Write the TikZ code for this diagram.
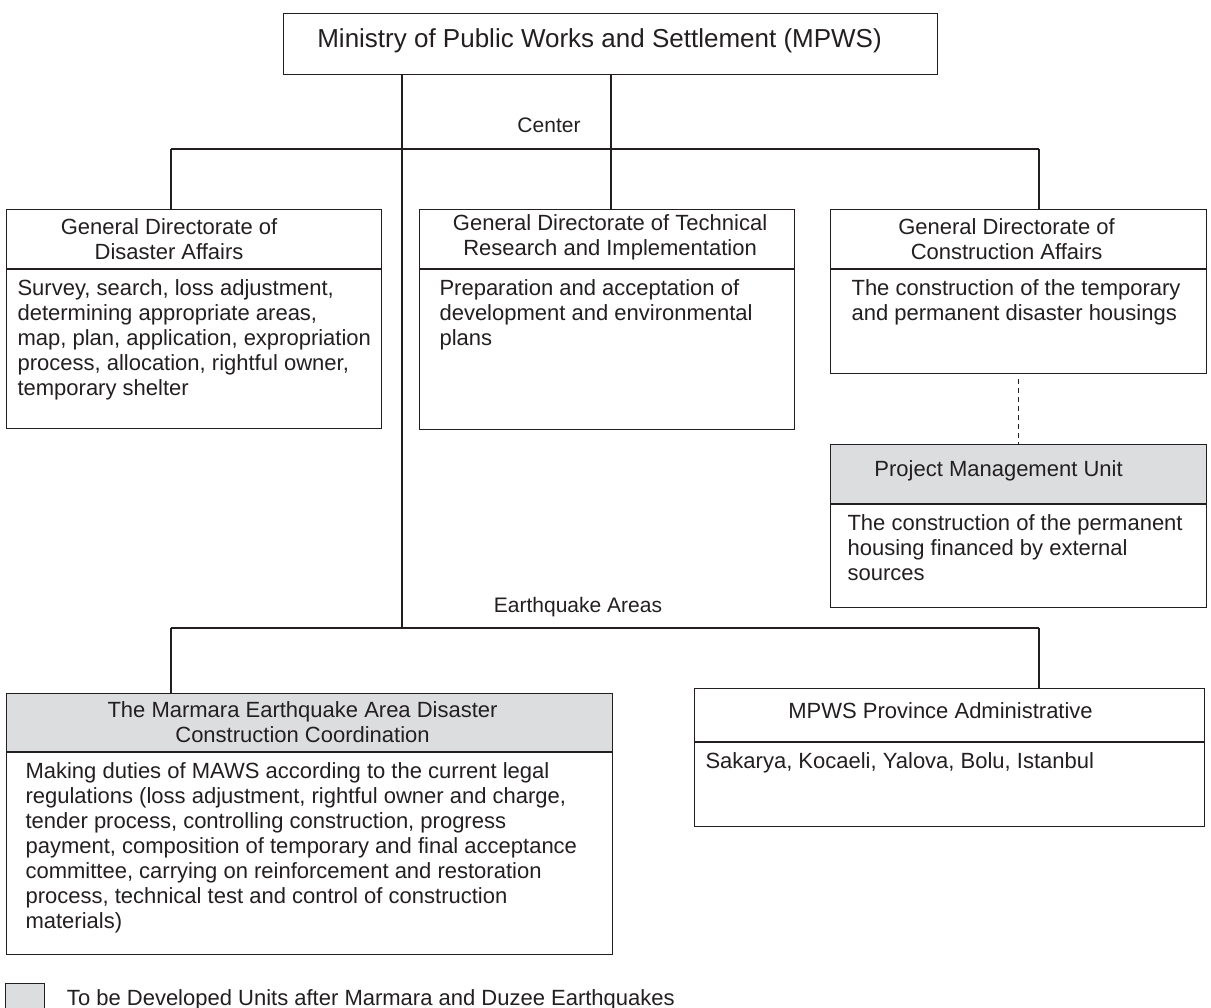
\documentclass[tikz,border=0pt]{standalone}
\usepackage{fontspec}
\setmainfont{Liberation Sans}
\usetikzlibrary{positioning}
\definecolor{newunit}{RGB}{220,221,223}
\definecolor{ink}{RGB}{35,31,32}
% duty text: width, height, left inset, lines
\newcommand{\dutytext}[4]{\parbox[c][#2][t]{#1}{\raggedright\leftskip=#3\rule{0pt}{26pt}#4}}
\begin{document}
\begin{tikzpicture}[x=1pt, y=-1pt, line width=1.1pt, color=ink,
  font=\fontsize{22}{25}\selectfont,
  unit/.style={draw, rectangle, inner sep=0pt, minimum height=59pt},
  newunit/.style={unit, fill=newunit},
  title/.style={align=center, inner sep=0pt},
  duty/.style={draw, rectangle, inner sep=0pt, below=0pt of #1},
  tag/.style={font=\fontsize{21}{25}\selectfont, anchor=base}
]
  \useasboundingbox (0,0) rectangle (1211,1008);

  % Ministry
  \node[unit, minimum width=654pt, minimum height=61pt, anchor=north west] (mpws) at (283,13) {};
  \node[title, font=\fontsize{26}{30}\selectfont] (mpws-title) at ([xshift=-11pt, yshift=3pt]mpws.center) {Ministry of Public Works and Settlement (MPWS)};

  % Center units
  \node[unit, minimum width=375pt, anchor=north west] (gdda) at (6,209) {};
  \node[title] (gdda-title) at ([xshift=-25pt]gdda.center) {General Directorate of\\Disaster Affairs};
  \node[duty=gdda] (gdda-duty) {\dutytext{375pt}{159pt}{11pt}{Survey, search, loss adjustment,\\determining appropriate areas,\\map, plan, application, expropriation\\process, allocation, rightful owner,\\temporary shelter}};

  \node[unit, minimum width=375pt, anchor=north west] (gdtr) at (419,209) {};
  \node[title] (gdtr-title) at ([xshift=3pt, yshift=2pt]gdtr.center) {General Directorate of Technical\\Research and Implementation};
  \node[duty=gdtr] (gdtr-duty) {\dutytext{375pt}{160pt}{20pt}{Preparation and acceptation of\\development and environmental\\plans}};

  \node[unit, minimum width=376pt, anchor=north west] (gdca) at (830,209) {};
  \node[title] (gdca-title) at ([xshift=-12pt]gdca.center) {General Directorate of\\Construction Affairs};
  \node[duty=gdca] (gdca-duty) {\dutytext{376pt}{104pt}{21pt}{The construction of the temporary\\and permanent disaster housings}};

  \node[newunit, minimum width=376pt, anchor=north west] (pmu) at (830,444) {};
  \node[title] (pmu-title) at ([xshift=-20pt, yshift=3pt]pmu.center) {Project Management Unit};
  \node[duty=pmu] (pmu-duty) {\dutytext{376pt}{103pt}{17pt}{The construction of the permanent\\housing financed by external\\sources}};

  % Earthquake area units
  \node[newunit, minimum width=606pt, minimum height=58pt, anchor=north west] (mecc) at (6,693) {};
  \node[title] (mecc-title) at ([xshift=-7pt]mecc.center) {The Marmara Earthquake Area Disaster\\Construction Coordination};
  \node[duty=mecc] (mecc-duty) {\dutytext{606pt}{202pt}{19pt}{Making duties of MAWS according to the current legal\\regulations (loss adjustment, rightful owner and charge,\\tender process, controlling construction, progress\\payment, composition of temporary and final acceptance\\committee, carrying on reinforcement and restoration\\process, technical test and control of construction\\materials)}};

  \node[unit, minimum width=510pt, minimum height=53pt, anchor=north west] (mpa) at (694,688) {};
  \node[title] (mpa-title) at ([xshift=-9pt, yshift=4pt]mpa.center) {MPWS Province Administrative};
  \node[duty=mpa] (mpa-duty) {\dutytext{510pt}{84pt}{11pt}{Sakarya, Kocaeli, Yalova, Bolu, Istanbul}};

  % Tree lines
  \coordinate (center-l) at (171,149);
  \coordinate (center-m) at (611,149);
  \coordinate (center-r) at (1039,149);
  \coordinate (quake-l) at (171,628);
  \coordinate (quake-r) at (1039,628);
  \coordinate (spine) at (402,628);

  \draw (center-l) -- (center-r);
  \draw (mpws.south -| center-m) -- (gdtr.north -| center-m);
  \draw (center-l) -- (center-l |- gdda.north);
  \draw (center-r) -- (center-r |- gdca.north);
  \draw (mpws.south -| spine) -- (spine);
  \draw (quake-l) -- (quake-r);
  \draw (quake-l) -- (quake-l |- mecc.north);
  \draw (quake-r) -- (quake-r |- mpa.north);
  \draw[dash pattern=on 5pt off 4pt, shorten <=5pt] (gdca-duty.south) -- (pmu.north);

  \node[tag] (center-tag) at (549,133) {Center};
  \node[tag] (quake-tag) at (578,612) {Earthquake Areas};

  % Legend
  \node[draw, fill=newunit, minimum width=39pt, minimum height=28pt, inner sep=0pt, anchor=north west] (key) at (5,983) {};
  \node[right=18pt of key, yshift=-2pt] (key-text) {To be Developed Units after Marmara and Duzee Earthquakes};
\end{tikzpicture}
\end{document}
